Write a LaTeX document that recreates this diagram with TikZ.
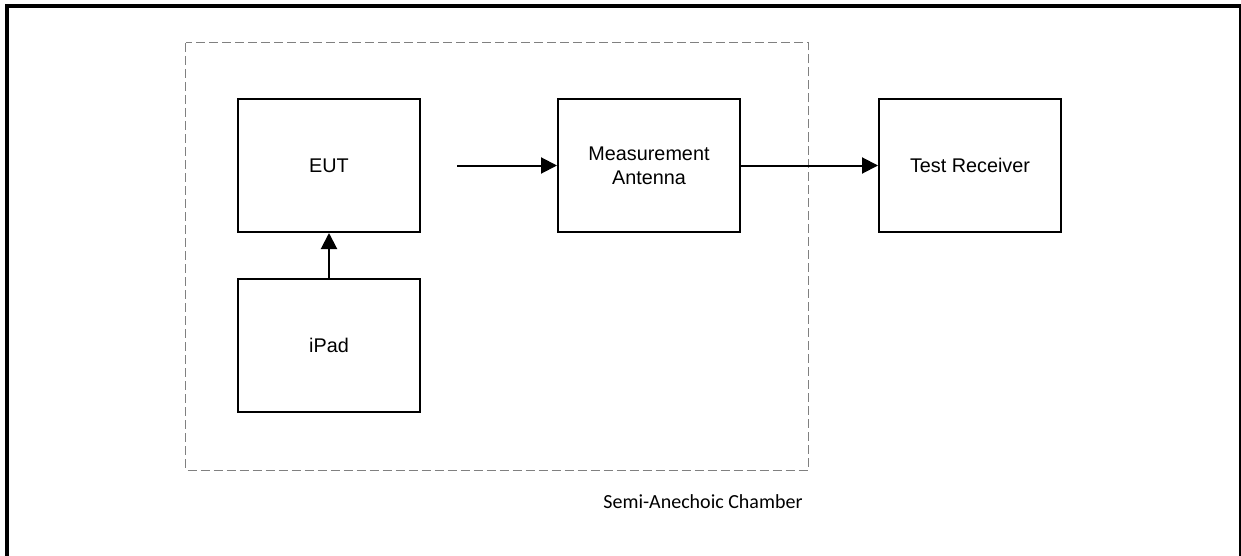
\documentclass[tikz,border=0pt]{standalone}
\usepackage{fontspec}
\setmainfont{Liberation Sans}
\newfontfamily\chamberfont{Carlito}
\usetikzlibrary{arrows.meta}
\tikzset{
	block/.style={draw, line width=1pt, minimum width=91pt, minimum height=66.5pt, inner sep=0pt, align=center, font=\fontsize{9.9}{12}\selectfont},
	link/.style={line width=1pt, -{Triangle[length=8pt, width=8pt]}},
	chamber/.style={draw=black!50, line width=0.5pt, dash pattern=on 4.5pt off 2pt}
}

\begin{document}
\begin{tikzpicture}[x=0.5pt, y=-0.5pt]
			%%%%% START %%%%%
			
			\useasboundingbox (0, 0) rectangle (1241, 556);
			
			\draw[line width=2pt] (6.5, 556) -- (6.5, 6) -- (1241, 6);
			\draw[line width=1pt] (1240, 6) -- (1240, 556);
			
			\draw[chamber] (185.5, 43) rectangle (808, 470);
			\node[font=\chamberfont\fontsize{10}{12}\selectfont, anchor=west, inner sep=0pt] (chamberlabel) at (603, 502) {Semi-Anechoic Chamber};
			
			\node[block] (eut) at (329, 165.5) {EUT};
			\node[block] (ipad) at (329, 345.5) {iPad};
			\node[block] (antenna) at (649, 165.5) {Measurement\\Antenna};
			\node[block] (receiver) at (970, 165.5) {Test Receiver};
			
			\coordinate (emission) at (457, 165.5);
			
			\draw[link] (ipad) -- (eut);
			\draw[link] (emission) -- (antenna);
			\draw[link] (antenna) -- (receiver);
			
			%%%%% END %%%%%
\end{tikzpicture}
\end{document}
